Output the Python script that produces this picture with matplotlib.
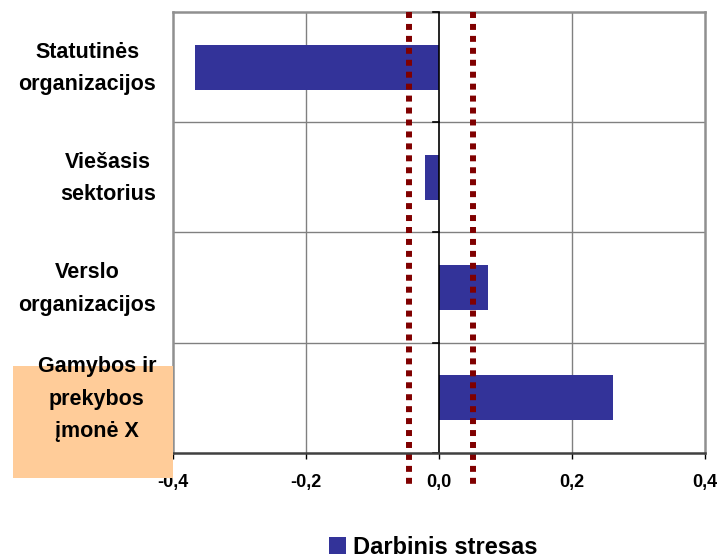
import matplotlib
matplotlib.use("Agg")
import matplotlib.pyplot as plt
from matplotlib.patches import Rectangle

plt.rcParams['font.family'] = ['Liberation Sans', 'DejaVu Sans']

# Data
categories = ["Statutinės\norganizacijos", "Viešasis\nsektorius",
              "Verslo\norganizacijos", "Gamybos ir\nprekybos\nįmonė X"]
stress_values = [-0.367, -0.021, 0.074, 0.262]
threshold_lines = [-0.045, 0.051]
x_ticks = [-0.4, -0.2, 0.0, 0.2, 0.4]
x_tick_labels = ["-0,4", "-0,2", "0,0", "0,2", "0,4"]
series_name = "Darbinis stresas"

W, H = 720, 557
fig = plt.figure(figsize=(W / 100, H / 100), dpi=100)
ax_l, ax_r, ax_t, ax_b = 173, 705, 12, 452.7
ax = fig.add_axes([ax_l / W, 1 - ax_b / H, (ax_r - ax_l) / W, (ax_b - ax_t) / H])

# Peach highlight behind the last category label
fig.patches.append(Rectangle((13 / W, 1 - 478 / H), (173 - 13) / W, (478 - 366) / H,
                             transform=fig.transFigure, facecolor="#FFCC99",
                             edgecolor="none", zorder=0))

ypos = list(range(len(categories)))
bars = ax.barh(ypos, stress_values, height=0.41, color="#333399", zorder=3)

ax.set_xlim(-0.4, 0.4)
ax.set_ylim(3.5, -0.5)

# Grid lines
for gx in [-0.2, 0.2]:
    ax.axvline(gx, color="#808080", lw=1.0, zorder=1)
for gy in [0.5, 1.5, 2.5]:
    ax.axhline(gy, color="#808080", lw=1.0, zorder=1)

# Zero axis with category ticks
ax.axvline(0, color="black", lw=1.2, zorder=4)
for gy in [-0.5, 0.5, 1.5, 2.5, 3.5]:
    ax.plot([-0.009, 0], [gy, gy], color="black", lw=1.2, zorder=4, clip_on=False)

# Threshold dotted lines
for tx in threshold_lines:
    ax.plot([tx, tx], [1.0, -0.075], transform=ax.get_xaxis_transform(),
            color="#800000", lw=4.3, linestyle=(0, (1, 1)), zorder=5, clip_on=False)

# Frame
for side in ["top", "left", "right"]:
    ax.spines[side].set_color("#909090")
    ax.spines[side].set_linewidth(1.8)
ax.spines["bottom"].set_color("#404040")
ax.spines["bottom"].set_linewidth(1.8)
ax.spines["bottom"].set_zorder(6)

ax.set_xticks(x_ticks)
ax.set_xticklabels(x_tick_labels, fontsize=13, fontweight="bold")
ax.tick_params(axis="x", length=4.5, width=1.0, pad=11, color="black")
ax.set_yticks([])

# Category labels: lines centred within a right-aligned block
for i, lab in enumerate(categories):
    y_px = ax_t + (ax_b - ax_t) * (i + 0.5) / len(categories)
    fig.text(156 / W, 1 - (y_px + 1.5) / H, lab, ha="right", va="center",
             multialignment="center", fontsize=15.5, fontweight="bold",
             linespacing=1.70, zorder=2)

fig.legend([bars], [series_name], loc="center", bbox_to_anchor=(433 / W, 1 - 547 / H),
           frameon=False, prop={"size": 17, "weight": "bold"},
           handlelength=0.72, handleheight=0.72, handletextpad=0.3,
           borderpad=0, borderaxespad=0)

fig.savefig("out.png", dpi=100)
